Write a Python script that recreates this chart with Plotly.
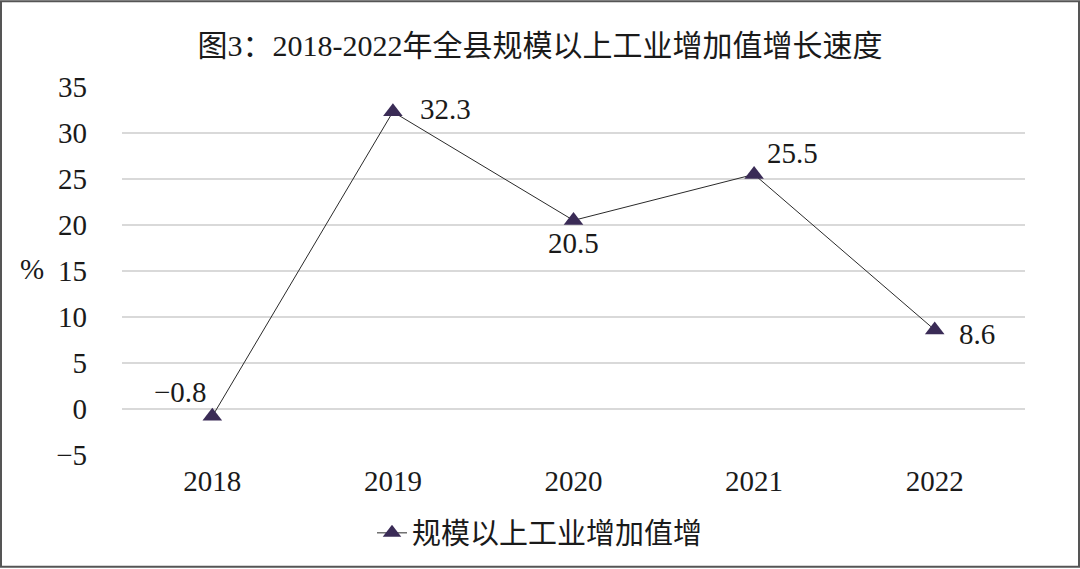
import plotly.graph_objects as go

years = ["2018", "2019", "2020", "2021", "2022"]
growth = [-0.8, 32.3, 20.5, 25.5, 8.6]
label_text = ["−0.8", "32.3", "20.5", "25.5", "8.6"]
series_name = "规模以上工业增加值增"
title_text = "图3：2018-2022年全县规模以上工业增加值增长速度"
y_ticks = [-5, 0, 5, 10, 15, 20, 25, 30, 35]
y_tick_text = ["−5", "0", "5", "10", "15", "20", "25", "30", "35"]
y_unit = "%"

# pixel offsets of each value label from its point (styling)
label_dx = [-32, 53, 0, 38, 42]
label_dy = [24, 3, -23, 21, -4]

W, H = 1080, 569
ml, mr, mt, mb = 122, 55, 87, 113
pw = W - ml - mr
ph = H - mt - mb
FONT = "Liberation Serif, Times New Roman, Noto Sans CJK SC, serif"
INK = "#1a1a1a"

fig = go.Figure()
fig.add_trace(go.Scatter(
    x=years, y=growth, mode="lines+markers",
    name=series_name,
    line=dict(color="#2a2a2a", width=1),
    marker=dict(symbol="triangle-up", size=17, color="#3a2b56"),
    cliponaxis=False,
))

# value labels: x given as category index on the category axis
for i, (yv, t, dx, dy) in enumerate(zip(growth, label_text, label_dx, label_dy)):
    fig.add_annotation(x=i, y=yv, text=t, showarrow=False,
                       xshift=dx, yshift=dy, xanchor="center", yanchor="middle",
                       font=dict(family=FONT, size=29, color=INK))

fig.add_shape(type="rect", xref="paper", yref="paper",
              x0=(-ml + 1) / pw, x1=1 + (mr - 1) / pw,
              y0=(-mb + 1) / ph, y1=1 + (mt - 1) / ph,
              line=dict(color="#555555", width=2), layer="below")

fig.add_annotation(text=y_unit, xref="paper", yref="paper",
                   x=(32 - ml) / pw, y=(H - mb - 269) / ph,
                   xanchor="center", yanchor="middle", showarrow=False,
                   font=dict(family=FONT, size=29, color=INK))

fig.update_layout(
    width=W, height=H,
    margin=dict(l=ml, r=mr, t=mt, b=mb),
    paper_bgcolor="white", plot_bgcolor="white",
    font=dict(family=FONT, size=29, color=INK),
    title=dict(text=title_text, x=0.5, xanchor="center", y=1 - 45 / H, yanchor="middle",
               font=dict(family=FONT, size=30, color=INK)),
    showlegend=True,
    legend=dict(orientation="h", x=(372 - ml) / pw, xanchor="left",
                y=-(533 - (H - mb)) / ph, yanchor="middle",
                font=dict(family=FONT, size=29, color=INK)),
    xaxis=dict(type="category", range=[-0.5, 4.5], showgrid=False, showline=False,
               ticks="", ticklabelstandoff=6,
               tickfont=dict(family=FONT, size=29, color=INK)),
    yaxis=dict(range=[-5, 35], tickvals=y_ticks, ticktext=y_tick_text,
               showgrid=True, gridcolor="#d9d9d9", gridwidth=2, zeroline=False,
               showline=False, ticks="", ticklabelstandoff=34,
               tickfont=dict(family=FONT, size=29, color=INK)),
)

fig.write_html("out.html", config={"displayModeBar": False},
               post_script="document.body.style.margin='0';document.body.style.overflow='hidden';")
